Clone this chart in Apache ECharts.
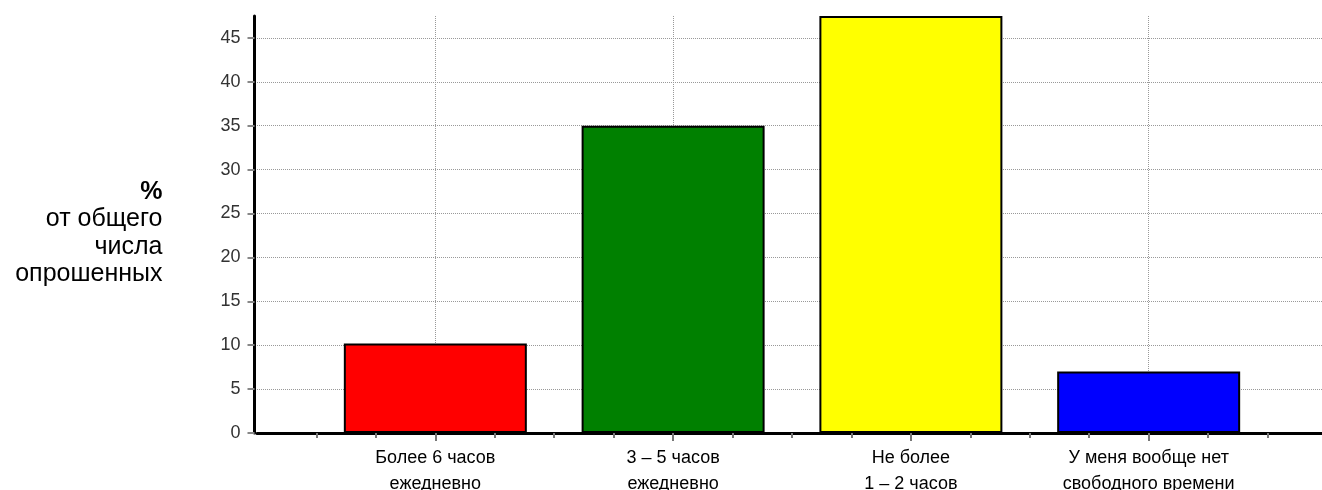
<!DOCTYPE html>
<html>
<head>
<meta charset="utf-8">
<script src="https://cdn.jsdelivr.net/npm/echarts@6/dist/echarts.min.js"></script>
<style>
html,body{margin:0;padding:0;background:#fff;}
#chart{width:1322px;height:490px;}
</style>
</head>
<body>
<div id="chart"></div>
<script>
const categories = ["Более 6 часов\nежедневно", "3 – 5 часов\nежедневно", "Не более\n1 – 2 часов", "У меня вообще нет\nсвободного времени"];
const positions = [1, 2, 3, 4];
const values = [10.2, 35.0, 47.5, 7.0];
const barColors = ["#ff0000", "#008000", "#ffff00", "#0000ff"];
const yTitle = "{p|%}\nот общего\nчисла\nопрошенных";

const chart = echarts.init(document.getElementById('chart'));
const font = "'Liberation Sans', Arial, sans-serif";
chart.setOption({
  animation: false,
  grid: { left: 257, right: -5, top: 16, bottom: 57, containLabel: false, outerBoundsMode: 'none' },
  xAxis: [{
    type: 'value', min: 0.25, max: 4.75, interval: 0.25, position: 'bottom',
    axisLine: { show: true, onZero: false, lineStyle: { color: '#000', width: 3 } },
    axisTick: { show: true, length: 5, lineStyle: { color: '#777', width: 2 } },
    splitLine: { show: false },
    axisLabel: {
      margin: 12, fontSize: 18, fontFamily: font, color: '#000', lineHeight: 26,
      showMinLabel: false, showMaxLabel: false,
      formatter: function (v) {
        const i = positions.indexOf(Math.round(v * 100) / 100);
        return i >= 0 ? categories[i] : '';
      }
    }
  }, {
    type: 'value', min: 0.25, max: 4.75, interval: 0.25, position: 'bottom', offset: 0,
    axisLine: { show: false, onZero: false },
    axisTick: { show: true, length: 8, customValues: positions, lineStyle: { color: '#777', width: 2 } },
    axisLabel: { show: false },
    splitLine: { show: false }
  }],
  yAxis: {
    type: 'value', min: 0, max: 47.5, interval: 5, offset: 2.5,
    name: yTitle, nameLocation: 'middle', nameRotate: 0, nameGap: 92,
    nameTextStyle: { fontSize: 25, fontFamily: font, color: '#000', align: 'right', verticalAlign: 'middle', lineHeight: 27.5, padding: [17, 0, 0, 0],
      rich: { p: { fontSize: 25, fontWeight: 'bold', fontFamily: font, color: '#000', lineHeight: 27.5 } } },
    axisLine: { show: true, lineStyle: { color: '#000', width: 3 } },
    axisTick: { show: true, length: 7, lineStyle: { color: '#888', width: 2 } },
    axisLabel: { margin: 14, fontSize: 18, fontFamily: font, color: '#333', showMaxLabel: false },
    splitLine: { show: true, showMaxLine: false, lineStyle: { color: '#999', type: 'dotted', width: 1 } }
  },
  series: [{
    type: 'bar',
    barWidth: 183,
    data: positions.map((p, i) => ({ value: [p, values[i]], itemStyle: { color: barColors[i] } })),
    itemStyle: { borderColor: '#000', borderWidth: 2 },
    z: 3,
    markLine: {
      silent: true, symbol: 'none', label: { show: false }, z: 1,
      lineStyle: { color: '#999', type: 'dotted', width: 1 },
      data: positions.map(p => ({ xAxis: p }))
    }
  }]
});
</script>
</body>
</html>
